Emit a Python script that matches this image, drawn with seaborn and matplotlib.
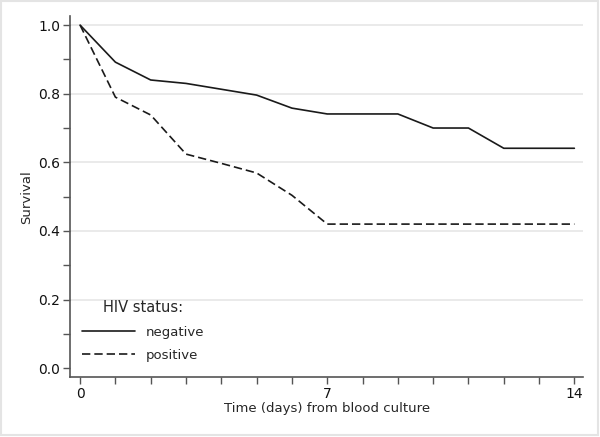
import pandas as pd
import matplotlib.pyplot as plt
import seaborn as sns
from matplotlib.patches import Rectangle

# survival estimates, one point per day
days = list(range(15))
neg_survival = [1.0, 0.892, 0.84, 0.83, 0.813, 0.796, 0.758, 0.741, 0.741, 0.741,
                0.70, 0.70, 0.641, 0.641, 0.641]
pos_survival = [1.0, 0.79, 0.738, 0.624, 0.597, 0.569, 0.504, 0.42, 0.42, 0.42,
                0.42, 0.42, 0.42, 0.42, 0.42]
groups = ["negative", "positive"]

df = pd.DataFrame({
    "day": days * 2,
    "survival": neg_survival + pos_survival,
    "HIV": [groups[0]] * len(days) + [groups[1]] * len(days),
})

sns.set_style("white")
plt.rcParams["font.family"] = ["DejaVu Sans"]

fig = plt.figure(figsize=(6, 4.37), dpi=100)
ax = fig.add_axes([0.117, 0.137, 0.855, 0.826])

# light grid first so the curves sit on top
for yv in [0.2, 0.4, 0.6, 0.8, 1.0]:
    ax.axhline(yv, color="#e6e6e6", lw=1.2, zorder=0)

sns.lineplot(data=df, x="day", y="survival", style="HIV",
             dashes={"negative": "", "positive": (5.0, 2.4)},
             color="#1a1a1a", linewidth=1.2, ax=ax)

ax.set_xlim(-0.28, 14.25)
ax.set_ylim(-0.026, 1.026)
ax.set_xticks(range(15))
ax.set_xticklabels([str(d) if d in (0, 7, 14) else "" for d in range(15)])
ax.set_yticks([i / 10 for i in range(11)])
ax.set_yticklabels([f"{i / 10:.1f}" if i % 2 == 0 else "" for i in range(11)])
ax.tick_params(axis="both", direction="out", length=5, width=1, color="#555555",
               labelsize=10, labelcolor="#111111", pad=2,
               bottom=True, left=True)

for s in ["top", "right"]:
    ax.spines[s].set_visible(False)
for s in ["left", "bottom"]:
    ax.spines[s].set_color("#555555")
    ax.spines[s].set_linewidth(1.2)

ax.set_xlabel("Time (days) from blood culture", fontsize=9.5, labelpad=1)
ax.set_ylabel("Survival", fontsize=9.5, labelpad=4)

leg = ax.legend(title="HIV status:", loc="lower left", bbox_to_anchor=(0.0, 0.01),
                frameon=False, fontsize=9.5, title_fontsize=10.5,
                handlelength=4.0, handletextpad=0.8, labelspacing=0.75)
leg._legend_box.sep = 8
for line in leg.get_lines():
    line.set_linewidth(1.2)

# faint frame round the whole picture
fig.patches.append(Rectangle((0.002, 0.004), 0.994, 0.993, transform=fig.transFigure,
                             fill=False, edgecolor="#e4e4e4", lw=1.5))

fig.savefig("out.png", dpi=100)
